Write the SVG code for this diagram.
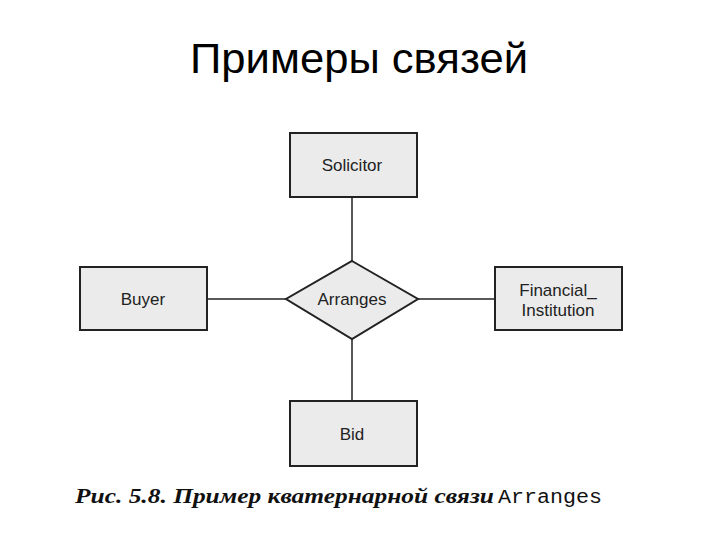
<svg xmlns="http://www.w3.org/2000/svg" width="720" height="540" viewBox="0 0 720 540">
<style>
.ent{fill:#ebebeb;stroke:#222;stroke-width:2}
.lbl{font-family:"Liberation Sans",Arial,sans-serif;font-size:17px;fill:#222;text-anchor:middle}
.con{stroke:#222;stroke-width:1.5;fill:none}
</style>
<rect width="720" height="540" fill="#fff"/>
<text x="359" y="73" font-family="Liberation Sans, Arial, sans-serif" font-size="43" text-anchor="middle" fill="#000" textLength="338" lengthAdjust="spacingAndGlyphs">Примеры связей</text>
<g id="connectors">
<line class="con" x1="352" y1="197" x2="352" y2="261"/>
<line class="con" x1="352" y1="339" x2="352" y2="401"/>
<line class="con" x1="207" y1="299" x2="286" y2="299"/>
<line class="con" x1="417" y1="299" x2="495" y2="299"/>
</g>
<g id="solicitor">
<rect class="ent" x="290" y="133" width="127" height="64"/>
<text class="lbl" x="352" y="171">Solicitor</text>
</g>
<g id="buyer">
<rect class="ent" x="80" y="267" width="127" height="63"/>
<text class="lbl" x="143" y="305">Buyer</text>
</g>
<g id="arranges">
<polygon class="ent" points="352,261 418,299 352,339 286,299"/>
<text class="lbl" x="352" y="305">Arranges</text>
</g>
<g id="financial">
<rect class="ent" x="495" y="267" width="127" height="63"/>
<text class="lbl" x="558" y="296">Financial_</text>
<text class="lbl" x="558" y="316">Institution</text>
</g>
<g id="bid">
<rect class="ent" x="290" y="401" width="127" height="65"/>
<text class="lbl" x="352" y="440">Bid</text>
</g>
<text x="75" y="503" font-family="Liberation Serif, serif" font-style="italic" font-weight="bold" font-size="21" fill="#111" textLength="419" lengthAdjust="spacingAndGlyphs">Рис. 5.8. Пример кватернарной связи</text>
<text x="498" y="503" font-family="Liberation Mono, monospace" font-size="20" fill="#111" textLength="104" lengthAdjust="spacingAndGlyphs">Arranges</text>
</svg>
